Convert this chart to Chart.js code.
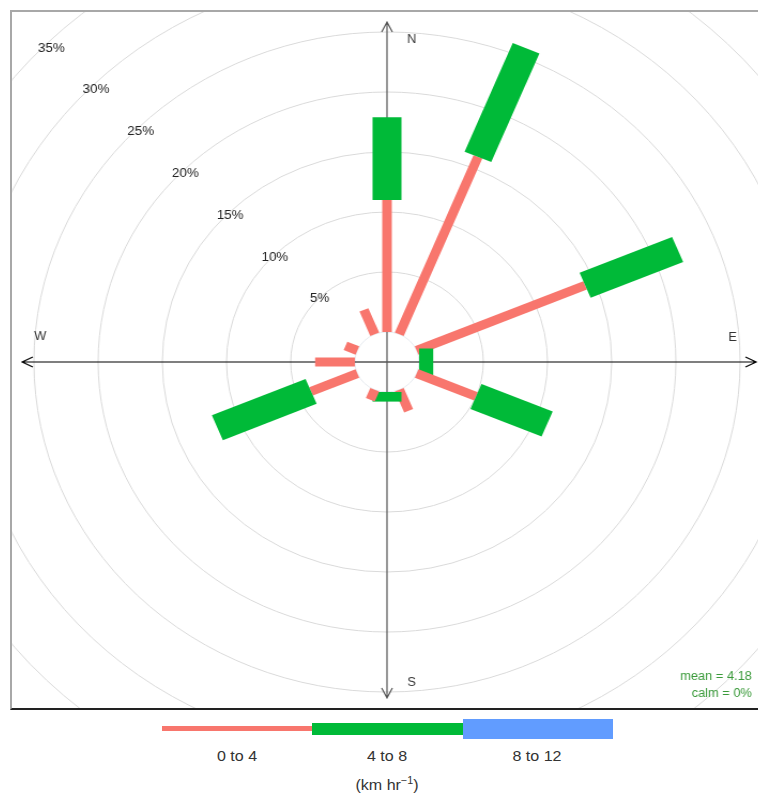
<!DOCTYPE html>
<html>
<head>
<meta charset="utf-8">
<script src="https://cdn.jsdelivr.net/npm/chart.js@4.4.1/dist/chart.umd.min.js"></script>
<style>
  html, body { margin: 0; padding: 0; background: #fff; }
  body { font-family: "Liberation Sans", Arial, sans-serif; }
  #page { position: relative; width: 758px; height: 793px; overflow: hidden; background: #fff; }
  #box { position: absolute; left: 10px; top: 10px; width: 760px; height: 700px; box-sizing: border-box;
         border-top: 2px solid #a8a8a8; border-left: 2px solid #a8a8a8; border-bottom: 2px solid #222; overflow: hidden; }
  #rose { position: absolute; left: -75px; top: -100px; width: 900px; height: 900px;
          transform: scaleX(1.07); transform-origin: 450px 450px; }
  .lg-bar { position: absolute; }
  .lg-txt { position: absolute; transform: translateX(-50%) scaleX(1.07); font-size: 15px; line-height: 17px; color: #333; white-space: nowrap; }
</style>
</head>
<body>
<div id="page">
  <div id="box"><canvas id="rose" width="900" height="900"></canvas></div>
  <div id="legend"></div>
</div>
<script>
// ---- data ----
const directions = ['N','NNE','NE','ENE','E','ESE','SE','SSE','S','SSW','SW','WSW','W','WNW','NW','NNW'];
const speedBins  = ['0 to 4', '4 to 8', '8 to 12'];
const binColors  = ['#F8766D', '#00BA38', '#619CFF'];
const pct0to4  = [11.0, 16.0, 0, 14.2, 0,   5.0, 0, 1.9, 0,   0.9, 0, 3.9, 3.1, 1.0, 0, 2.2];
const pct4to8  = [ 6.9,  9.8, 0,  7.8, 1.1, 6.0, 0, 0,   0.8, 0,   0, 7.9, 0,   0,   0, 0  ];
const pct8to12 = [ 0,    0,   0,  0,   0,   0,   0, 0,   0,   0,   0, 0,   0,   0,   0, 0  ];
const ringValues = [5, 10, 15, 20, 25, 30, 35];
const ringLabels = ['5%', '10%', '15%', '20%', '25%', '30%', '35%'];
const compassLabels = ['N', 'E', 'S', 'W'];
const meanText = 'mean = 4.18';
const calmText = 'calm = 0%';
const unitsHtml = '(km hr<sup style="font-size:10px">\u22121</sup>)';

const seriesValues = [pct0to4, pct4to8, pct8to12];
const paddleWidths = [9, 27, 36];

const rosePlugin = {
  id: 'rosePlugin',
  beforeDatasetsDraw(chart) {
    const s = chart.scales.r, ctx = chart.ctx;
    const cx = s.xCenter, cy = s.yCenter;
    ctx.save();
    ctx.lineWidth = 1.2;
    ctx.lineCap = 'butt';
    // horizontal axis (W-E) with open arrow heads
    ctx.strokeStyle = '#000';
    ctx.beginPath();
    ctx.moveTo(cx - 341, cy); ctx.lineTo(cx + 345, cy);
    ctx.moveTo(cx - 331, cy - 5); ctx.lineTo(cx - 341, cy); ctx.lineTo(cx - 331, cy + 5);
    ctx.moveTo(cx + 335, cy - 5); ctx.lineTo(cx + 345, cy); ctx.lineTo(cx + 335, cy + 5);
    ctx.stroke();
    // vertical axis (S-N)
    ctx.strokeStyle = '#555';
    ctx.beginPath();
    ctx.moveTo(cx, cy - 340); ctx.lineTo(cx, cy + 336);
    ctx.moveTo(cx - 5, cy - 330); ctx.lineTo(cx, cy - 340); ctx.lineTo(cx + 5, cy - 330);
    ctx.moveTo(cx - 5, cy + 326); ctx.lineTo(cx, cy + 336); ctx.lineTo(cx + 5, cy + 326);
    ctx.stroke();
    ctx.restore();
  },
  afterDatasetsDraw(chart) {
    const s = chart.scales.r, ctx = chart.ctx;
    const cx = s.xCenter, cy = s.yCenter;
    ctx.save();
    ctx.lineCap = 'butt';
    // paddles
    chart.data.labels.forEach((lab, i) => {
      let base = 0;
      chart.data.datasets.forEach((ds, k) => {
        const v = ds.data[i];
        if (v > 0) {
          const p1 = s.getPointPositionForValue(i, base);
          const p2 = s.getPointPositionForValue(i, base + v);
          ctx.strokeStyle = ds.borderColor;
          ctx.lineWidth = paddleWidths[k];
          ctx.beginPath();
          ctx.moveTo(p1.x, p1.y);
          ctx.lineTo(p2.x, p2.y);
          ctx.stroke();
        }
        base += v;
      });
    });
    // ring labels along the NW diagonal
    ctx.font = '12.5px "Liberation Sans", Arial, sans-serif';
    ctx.fillStyle = '#222';
    ctx.textAlign = 'center';
    ctx.textBaseline = 'middle';
    const nwIndex = directions.indexOf('NW');
    ringValues.forEach((v, j) => {
      const p = s.getPointPositionForValue(nwIndex, v * 0.985);
      ctx.fillText(ringLabels[j], p.x, p.y);
    });
    // compass labels
    ctx.font = '12px "Liberation Sans", Arial, sans-serif';
    ctx.fillStyle = '#333';
    const offs = [[23, -322], [323, -24], [23, 321], [-324, -25]];
    compassLabels.forEach((t, j) => ctx.fillText(t, cx + offs[j][0], cy + offs[j][1]));
    // statistics
    ctx.fillStyle = '#3a9a3a';
    ctx.textAlign = 'right';
    ctx.fillText(meanText, cx + 341, cy + 315);
    ctx.fillText(calmText, cx + 341, cy + 332);
    ctx.restore();
  }
};

new Chart(document.getElementById('rose'), {
  type: 'radar',
  data: {
    labels: directions,
    datasets: seriesValues.map((vals, k) => ({
      label: speedBins[k],
      data: vals,
      borderColor: binColors[k],
      backgroundColor: binColors[k],
      borderWidth: 0,
      pointRadius: 0,
      pointHoverRadius: 0,
      showLine: false,
      fill: false
    }))
  },
  options: {
    responsive: false,
    animation: false,
    devicePixelRatio: 1,
    events: [],
    layout: { padding: 0 },
    plugins: { legend: { display: false }, tooltip: { enabled: false } },
    scales: {
      r: {
        min: -2.5,
        max: 35,
        startAngle: 0,
        angleLines: { display: false },
        pointLabels: { display: false },
        ticks: { display: false, stepSize: 5 },
        grid: {
          circular: true,
          lineWidth: 1,
          color: (c) => (c.tick && c.tick.value > 0) ? '#dadada' : ((c.tick && c.tick.value === 0) ? '#e6eaef' : 'rgba(0,0,0,0)')
        }
      }
    }
  },
  plugins: [rosePlugin]
});

// ---- legend (HTML) ----
const legend = document.getElementById('legend');
const barLeft = [162, 312, 463], barWidth = [150, 151, 150], barTop = [726, 723, 719], barH = [5, 12, 20];
const txtCenter = [237, 387, 537];
speedBins.forEach((lab, k) => {
  const b = document.createElement('div');
  b.className = 'lg-bar';
  b.style.cssText = `left:${barLeft[k]}px;top:${barTop[k]}px;width:${barWidth[k]}px;height:${barH[k]}px;background:${binColors[k]};`;
  legend.appendChild(b);
  const t = document.createElement('div');
  t.className = 'lg-txt';
  t.style.left = txtCenter[k] + 'px';
  t.style.top = '747px';
  t.textContent = lab;
  legend.appendChild(t);
});
const u = document.createElement('div');
u.className = 'lg-txt';
u.style.left = '387px';
u.style.top = '772px';
u.innerHTML = unitsHtml;
legend.appendChild(u);
</script>
</body>
</html>
